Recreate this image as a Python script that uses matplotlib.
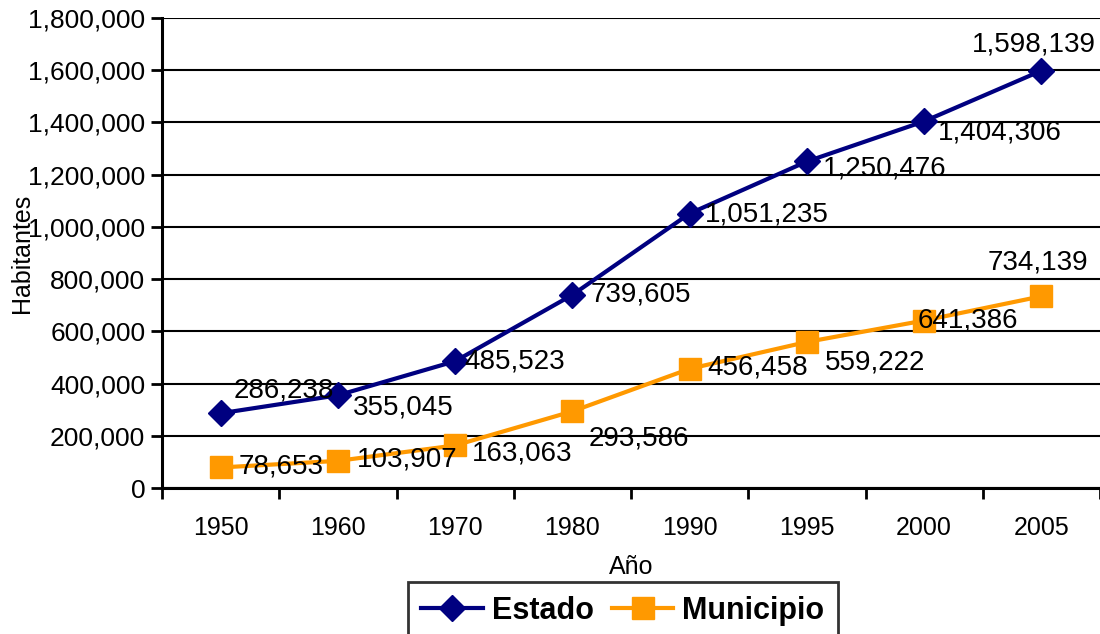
import numpy as np
import matplotlib.pyplot as plt
from matplotlib.ticker import FuncFormatter

plt.rcParams['font.family'] = ['Liberation Sans', 'DejaVu Sans']

# data
years = ["1950", "1960", "1970", "1980", "1990", "1995", "2000", "2005"]
estado = [286238, 355045, 485523, 739605, 1051235, 1250476, 1404306, 1598139]
municipio = [78653, 103907, 163063, 293586, 456458, 559222, 641386, 734139]

# label offsets (pixels) for each data label
estado_off = [(63, 23), (65, -12), (60, 0), (68, 0), (77, -1), (78, -7), (76, -11), (-8, 26)]
municipio_off = [(61, 1), (69, 1), (67, -8), (67, -27), (68, 1), (68, -21), (44, 0), (-3, 34)]

navy = "#000080"
orange = "#FF9900"

fig = plt.figure(figsize=(11, 6.34), dpi=100)
ax = fig.add_axes([162 / 1100, 1 - 488 / 634, 938 / 1100, 470 / 634])

x = np.arange(len(years))
ax.plot(x, estado, color=navy, lw=3, marker="D", ms=13, label="Estado", clip_on=False, zorder=3)
ax.plot(x, municipio, color=orange, lw=3, marker="s", ms=16, label="Municipio", clip_on=False, zorder=3)

for xi, v, off in zip(x, estado, estado_off):
    ax.annotate(f"{v:,}", (xi, v), xytext=off, textcoords="offset pixels",
                ha="center", va="center", fontsize=20, zorder=4)
for xi, v, off in zip(x, municipio, municipio_off):
    ax.annotate(f"{v:,}", (xi, v), xytext=off, textcoords="offset pixels",
                ha="center", va="center", fontsize=20, zorder=4)

ax.set_xlim(-0.5, 7.5)
ax.set_ylim(0, 1800000)
ax.set_yticks(np.arange(0, 1800001, 200000))
ax.yaxis.set_major_formatter(FuncFormatter(lambda v, p: f"{int(v):,}"))
ax.grid(axis="y", color="black", lw=1.5)
ax.set_axisbelow(True)

# category ticks: marks at boundaries, labels at centers
ax.set_xticks(np.arange(-0.5, 8, 1))
ax.set_xticklabels([])
ax.set_xticks(x, minor=True)
ax.set_xticklabels(years, minor=True)
ax.tick_params(axis="x", which="minor", length=0, pad=20, labelsize=18)
ax.tick_params(axis="x", which="major", length=8, width=2, direction="out")
ax.tick_params(axis="y", length=8, width=2, direction="out", labelsize=19, pad=4)

for s in ["top", "right"]:
    ax.spines[s].set_visible(False)
for s in ["left", "bottom"]:
    ax.spines[s].set_linewidth(2.2)

ax.set_xlabel("Año", fontsize=18, labelpad=11)
ax.set_ylabel("Habitantes", fontsize=18, labelpad=-4)

leg = ax.legend(loc="upper center", bbox_to_anchor=(623 / 1100, 1 - 582 / 634),
                bbox_transform=fig.transFigure, ncol=2, frameon=True, fancybox=False,
                prop={"weight": "bold", "size": 22}, handlelength=2.0, columnspacing=0.6,
                handletextpad=0.3, borderpad=0.45, borderaxespad=0)
leg.get_frame().set_edgecolor("black")
leg.get_frame().set_linewidth(2)

plt.savefig("out.png", dpi=100)
